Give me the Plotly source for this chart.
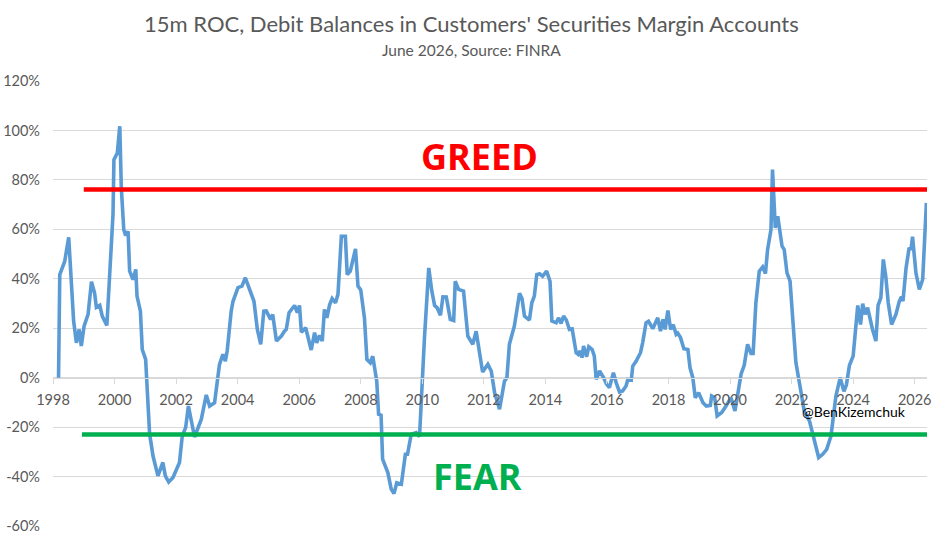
import plotly.graph_objects as go

# Decimal-year positions of the line's vertices and the 15m ROC values (%)
dates = [
    1998.18, 1998.22, 1998.38, 1998.51, 1998.67, 1998.76, 1998.85, 1998.92, 1999.01, 1999.14,
    1999.25, 1999.35, 1999.41, 1999.52, 1999.60, 1999.75, 1999.95, 1999.98, 2000.09, 2000.17,
    2000.22, 2000.30, 2000.36, 2000.44, 2000.49, 2000.60, 2000.69, 2000.73, 2000.84, 2000.90,
    2001.01, 2001.14, 2001.20, 2001.25, 2001.41, 2001.57, 2001.65, 2001.76, 2001.90, 2002.11,
    2002.20, 2002.31, 2002.40, 2002.60, 2002.82, 2002.98, 2003.09, 2003.25, 2003.41, 2003.52,
    2003.60, 2003.66, 2003.79, 2003.85, 2004.01, 2004.14, 2004.25, 2004.39, 2004.53, 2004.64,
    2004.75, 2004.85, 2004.93, 2005.07, 2005.14, 2005.26, 2005.42, 2005.52, 2005.58, 2005.67,
    2005.85, 2005.94, 2006.01, 2006.07, 2006.21, 2006.39, 2006.50, 2006.57, 2006.66, 2006.75,
    2006.82, 2006.90, 2006.99, 2007.07, 2007.18, 2007.26, 2007.37, 2007.50, 2007.56, 2007.66,
    2007.83, 2007.91, 2008.00, 2008.12, 2008.20, 2008.31, 2008.39, 2008.52, 2008.58, 2008.66,
    2008.71, 2008.88, 2008.99, 2009.08, 2009.17, 2009.32, 2009.45, 2009.52, 2009.64, 2009.80,
    2009.91, 2010.07, 2010.21, 2010.31, 2010.40, 2010.48, 2010.59, 2010.67, 2010.78, 2010.91,
    2011.02, 2011.07, 2011.18, 2011.34, 2011.48, 2011.64, 2011.75, 2011.86, 2011.96, 2012.13,
    2012.24, 2012.35, 2012.51, 2012.67, 2012.75, 2012.83, 2012.99, 2013.16, 2013.24, 2013.32,
    2013.48, 2013.56, 2013.64, 2013.72, 2013.81, 2013.91, 2014.04, 2014.15, 2014.21, 2014.35,
    2014.43, 2014.51, 2014.59, 2014.68, 2014.78, 2014.87, 2015.00, 2015.07, 2015.13, 2015.19,
    2015.24, 2015.34, 2015.41, 2015.52, 2015.59, 2015.65, 2015.76, 2015.89, 2015.99, 2016.08,
    2016.21, 2016.30, 2016.41, 2016.51, 2016.62, 2016.68, 2016.79, 2016.84, 2016.95, 2017.09,
    2017.16, 2017.27, 2017.35, 2017.49, 2017.65, 2017.74, 2017.82, 2017.89, 2017.98, 2018.07,
    2018.15, 2018.25, 2018.30, 2018.39, 2018.50, 2018.63, 2018.70, 2018.79, 2018.87, 2018.98,
    2019.12, 2019.23, 2019.36, 2019.40, 2019.50, 2019.58, 2019.73, 2019.87, 2020.03, 2020.16,
    2020.25, 2020.36, 2020.46, 2020.57, 2020.68, 2020.75, 2020.84, 2020.95, 2021.06, 2021.15,
    2021.22, 2021.33, 2021.38, 2021.47, 2021.55, 2021.62, 2021.69, 2021.76, 2021.85, 2021.95,
    2022.03, 2022.14, 2022.31, 2022.41, 2022.58, 2022.71, 2022.88, 2023.01, 2023.14, 2023.28,
    2023.44, 2023.58, 2023.70, 2023.78, 2023.88, 2024.00, 2024.15, 2024.24, 2024.31, 2024.39,
    2024.47, 2024.63, 2024.74, 2024.81, 2024.90, 2024.98, 2025.06, 2025.14, 2025.25, 2025.39,
    2025.50, 2025.57, 2025.62, 2025.72, 2025.82, 2025.88, 2025.93, 2026.04, 2026.15, 2026.26,
    2026.38,
]
roc = [
    0, 41.7, 47, 56.8, 22.9, 14.1, 19.5, 12.8, 20.8, 25.6,
    38.8, 34.3, 28.5, 29.3, 24.9, 21.1, 66, 88.2, 90.9, 101.7,
    76.8, 59.9, 57.5, 59.2, 43.1, 39.7, 43.8, 33, 26.9, 11.4,
    7.4, -22.9, -27.6, -31.7, -39.7, -34.3, -39.7, -42.2, -40.4, -34.3,
    -23.6, -20.2, -11.5, -24, -16.8, -7, -11.5, -10.1, 5.4, 9.4,
    6.7, 10.8, 26.9, 30.9, 36.4, 37, 40.4, 35.7, 30.9, 19.5,
    13.5, 26.9, 27, 23.6, 25.6, 14.8, 16.8, 18.8, 19.5, 26.3,
    29.2, 26.3, 29.2, 18.4, 20.2, 11.2, 18.2, 14.1, 17.1, 14.8,
    27.6, 24.2, 29.6, 32, 30.3, 33.7, 57.2, 57.2, 41.7, 43.1,
    52.1, 37, 35.5, 24.2, 7.4, 6, 8.7, -1.4, -14.8, -15.2,
    -33, -38.4, -45.1, -46.9, -42.5, -43.1, -31, -31, -22.9, -22.2,
    -23.8, 16, 44.4, 35, 29.2, 28.3, 25.2, 32.7, 32.6, 23.6,
    23.1, 39, 35.7, 35, 16.8, 13.5, 18.8, 10.1, 2.3, 5.4,
    2.7, -6.1, -12.8, -1.4, 0, 13.5, 20.8, 34.1, 32, 24.9,
    23.3, 30.3, 33, 41.7, 42, 41, 43.1, 39, 22.9, 22.2,
    24.2, 21.9, 24.9, 23.3, 19.5, 19.7, 10.1, 9.4, 10.8, 8.1,
    12.8, 8.5, 12.5, 11.4, 8.7, -0.7, 2.7, 0, -2.7, -4,
    2, -2, -5.8, -5.4, -3.4, -0.7, -1, 4.7, 6.7, 10.1,
    14.1, 22.2, 22.8, 19.8, 24.2, 18.8, 23.6, 19.5, 27.2, 19.5,
    21.5, 17.5, 18, 16.2, 11.7, 11.4, 4, 0, -8.1, -6.1,
    -10.1, -11.5, -11.2, -7.4, -8, -15.5, -14.1, -11.5, -8.1, -13.5,
    -7.4, 1.5, 5, 13.5, 9.8, 9.8, 30.3, 43.1, 44.8, 42.1,
    51.8, 59.9, 84.2, 60.6, 65.3, 59.9, 53.2, 51.8, 42.4, 39,
    23.6, 6.1, -6.1, -13.5, -17.5, -24.2, -32.3, -31, -29, -23.6,
    -7.4, 0, -5.5, -3, 5, 8.7, 29.2, 21.5, 29.9, 25.6,
    28.3, 19.5, 14.8, 29.2, 32.3, 47.8, 41, 30.3, 21.5, 25.6,
    30.9, 32.7, 31, 44.4, 52.5, 51.8, 57, 42.4, 35.7, 39.7,
    70.7,
]

greed_level = 76.1
fear_level = -23.0
greed_span = [1999.0, 2026.5]
fear_span = [1998.94, 2026.4]

x_ticks = [1998, 2000, 2002, 2004, 2006, 2008, 2010, 2012, 2014, 2016, 2018, 2020, 2022, 2024, 2026]
x_tick_labels = [str(v) for v in x_ticks]
y_ticks = [-60, -40, -20, 0, 20, 40, 60, 80, 100, 120]
y_tick_labels = [f"{v}%" for v in y_ticks]

title_text = "15m ROC, Debit Balances in Customers' Securities Margin Accounts"
subtitle_text = "June 2026, Source: FINRA"

FONT = "Lato"
GREY = "#595959"

fig = go.Figure()
fig.add_trace(go.Scatter(
    x=dates, y=roc, mode="lines",
    line=dict(color="#5B9BD5", width=3.6),
    hoverinfo="skip", showlegend=False,
))

fig.add_shape(type="line", xref="x", yref="y",
              x0=greed_span[0], x1=greed_span[1], y0=greed_level, y1=greed_level,
              line=dict(color="#FF0000", width=4.5), layer="above")
fig.add_shape(type="line", xref="x", yref="y",
              x0=fear_span[0], x1=fear_span[1], y0=fear_level, y1=fear_level,
              line=dict(color="#00B050", width=4.5), layer="above")

fig.add_annotation(x=2011.86, y=89.5, xref="x", yref="y", text="<b>GREED</b>",
                   showarrow=False, font=dict(family="Open Sans", size=36, color="#FF0000"))
fig.add_annotation(x=2011.8, y=-40, xref="x", yref="y", text="<b>FEAR</b>",
                   showarrow=False, font=dict(family="Open Sans", size=36, color="#00B050"))
fig.add_annotation(x=2024.02, y=-13.6, xref="x", yref="y", text="@BenKizemchuk",
                   showarrow=False, font=dict(family=FONT, size=14, color="#000000"))

# Title and subtitle
fig.add_annotation(x=0.479, y=1.13, xref="paper", yref="paper", text=title_text,
                   showarrow=False, xanchor="center", yanchor="middle",
                   font=dict(family=FONT, size=22, color=GREY))
fig.add_annotation(x=0.479, y=1.07, xref="paper", yref="paper", text=subtitle_text,
                   showarrow=False, xanchor="center", yanchor="middle",
                   font=dict(family=FONT, size=15.5, color=GREY))

fig.update_layout(
    width=944, height=540,
    margin=dict(l=53, r=17, t=81, b=14, autoexpand=False),
    paper_bgcolor="white", plot_bgcolor="white",
    font=dict(family=FONT, color=GREY),
    xaxis=dict(
        range=[1998.0, 2026.4],
        tickvals=x_ticks, ticktext=x_tick_labels,
        showgrid=False, zeroline=False,
        showline=True, linecolor="#d9d9d9", linewidth=1,
        ticks="outside", ticklen=5, tickcolor="#d9d9d9",
        tickfont=dict(family=FONT, size=14.5, color=GREY),
        ticklabelstandoff=4,
        anchor="free", position=1/3,
        automargin=False,
    ),
    yaxis=dict(
        range=[-60, 120],
        tickvals=y_ticks, ticktext=y_tick_labels,
        showgrid=True, gridcolor="#d9d9d9", gridwidth=1,
        zeroline=False, showline=False,
        tickfont=dict(family=FONT, size=14.5, color=GREY),
        ticklabelstandoff=12,
        automargin=False,
    ),
)

fig.write_html("out.html")
